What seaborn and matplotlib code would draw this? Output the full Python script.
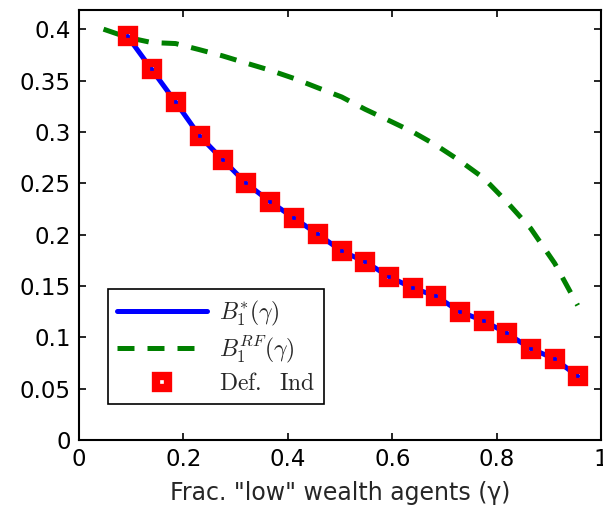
import numpy as np
import pandas as pd
import matplotlib
matplotlib.use("Agg")
import matplotlib.pyplot as plt
import seaborn as sns

# Data
gamma = [0.093, 0.139, 0.185, 0.231, 0.275, 0.320, 0.366, 0.412, 0.457, 0.503,
         0.548, 0.594, 0.639, 0.684, 0.729, 0.775, 0.819, 0.865, 0.911, 0.955]
b_star = [0.393, 0.361, 0.329, 0.296, 0.273, 0.250, 0.232, 0.216, 0.2005, 0.184,
          0.1735, 0.159, 0.148, 0.140, 0.125, 0.116, 0.104, 0.089, 0.079, 0.062]
gamma_rf = [0.047, 0.093, 0.139, 0.185, 0.231, 0.275, 0.320, 0.366, 0.412, 0.457,
            0.503, 0.548, 0.594, 0.639, 0.684, 0.729, 0.775, 0.819, 0.865, 0.911, 0.955]
b_rf = [0.400, 0.392, 0.387, 0.386, 0.380, 0.374, 0.367, 0.360, 0.352, 0.343,
        0.334, 0.322, 0.311, 0.300, 0.287, 0.272, 0.255, 0.232, 0.206, 0.172, 0.131]
x_ticks = [0, 0.2, 0.4, 0.6, 0.8, 1]
x_ticklabels = ["0", "0.2", "0.4", "0.6", "0.8", "1"]
y_ticks = [0, 0.05, 0.1, 0.15, 0.2, 0.25, 0.3, 0.35, 0.4]
y_ticklabels = ["0", "0.05", "0.1", "0.15", "0.2", "0.25", "0.3", "0.35", "0.4"]
labels = [r"$B_1^{*}(\gamma)$", r"$B_1^{RF}(\gamma)$", r"$\mathrm{Def.\ \ Ind}$"]
xlabel = 'Frac. "low" wealth agents (γ)'

sns.set_style("ticks")
plt.rcParams["font.family"] = ["DejaVu Sans"]
plt.rcParams["mathtext.fontset"] = "cm"
plt.rcParams["xtick.direction"] = "in"
plt.rcParams["ytick.direction"] = "in"

df_star = pd.DataFrame({"gamma": gamma, "B": b_star})
df_rf = pd.DataFrame({"gamma": gamma_rf, "B": b_rf})

fig = plt.figure(figsize=(6.03, 5.09), dpi=100)
ax = fig.add_axes([0.131, 0.1356, 0.997 - 0.131, 0.980 - 0.1356])

sns.lineplot(data=df_star, x="gamma", y="B", ax=ax, color="#0000ff", lw=3.6,
             label=labels[0], zorder=3)
sns.lineplot(data=df_rf, x="gamma", y="B", ax=ax, color="#008000", lw=3.6,
             linestyle=(0, (3.4, 2.6)), label=labels[1], zorder=2)
sns.lineplot(data=df_star, x="gamma", y="B", ax=ax, marker="s", linestyle="",
             markerfacecolor="none", markeredgecolor="#ff0000", markersize=9.2,
             markeredgewidth=6.0, color="#ff0000", label=labels[2], zorder=4)

ax.set_xlim(0, 1)
ax.set_ylim(0, 0.4185)
ax.set_xticks(x_ticks)
ax.set_xticklabels(x_ticklabels)
ax.set_yticks(y_ticks)
ax.set_yticklabels(y_ticklabels)
ax.set_xlabel(xlabel, fontsize=17, labelpad=7)
ax.set_ylabel("")
ax.tick_params(axis="both", which="both", direction="in", length=5, width=1.2,
               labelsize=16.5, top=True, right=True, pad=6, colors="black")
for s in ax.spines.values():
    s.set_visible(True)
    s.set_linewidth(1.5)
    s.set_color("black")

leg = ax.legend(loc="lower left", bbox_to_anchor=(0.055, 0.083), fontsize=17,
                frameon=True, fancybox=False, edgecolor="black", framealpha=1,
                handlelength=3.8, labelspacing=0.25, borderpad=0.4,
                handletextpad=0.5, borderaxespad=0)
leg.get_frame().set_linewidth(1.2)

fig.savefig("out.png", dpi=100)
